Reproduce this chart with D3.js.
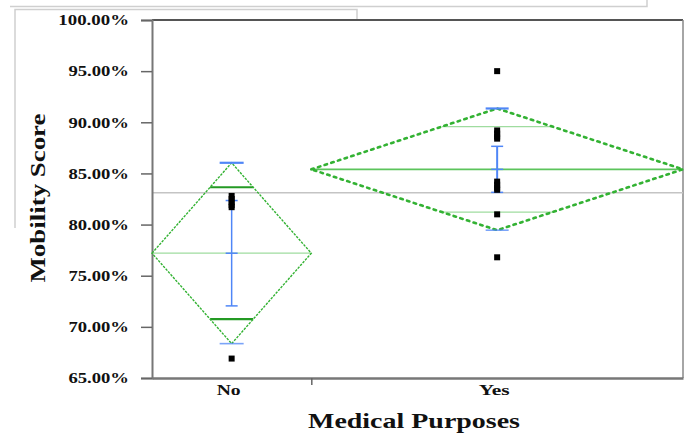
<!DOCTYPE html>
<html>
<head>
<meta charset="utf-8">
<script src="https://cdn.jsdelivr.net/npm/d3@7"></script>
<style>
  body { margin: 0; background: #fff; }
  text { font-family: "Liberation Serif", "Times New Roman", serif; font-weight: bold; fill: #111; }
</style>
</head>
<body>
<div id="chart"></div>
<script>
// groups and their sizes (x widths are proportional to n, like JMP)
var groups = ['No', 'Yes']
var groupN = [6, 14]

// raw points
var noPoints  = [0.828, 0.825, 0.822, 0.819, 0.817, 0.669]
var yesPoints = [0.950, 0.892, 0.889, 0.886, 0.884, 0.842, 0.839, 0.836, 0.834, 0.810, 0.768]

// summary stats per group
var groupMeans  = [0.772, 0.854]
var diamondHalf = [0.0884, 0.0595]   // mean diamond (CI) half height
var overlapHalf = [0.0645, 0.0418]   // overlap marks
var errHalf     = [0.0515, 0.0225]   // blue error bar
var grandMean = 0.831

var yTicks = [0.65, 0.70, 0.75, 0.80, 0.85, 0.90, 0.95, 1.00]

var W = 684, H = 434
var svg = d3.select('#chart').append('svg').attr('width', W).attr('height', H)

var pL = 152, pR = 683, pT = 20, pB = 378
var serif = '"Liberation Serif", "Times New Roman", serif'

var cum = d3.cumsum(groupN)
var total = d3.sum(groupN)
var x = d3.scaleLinear().domain([0, total]).range([pL, pR])
var y = d3.scaleLinear().domain([0.65, 1.0]).range([pB, pT])

var data = groups.map(function(g, i){
  var start = i ? cum[i-1] : 0
  return {
    name: g, x0: x(start), x1: x(cum[i]), xc: x(start + groupN[i]/2),
    mean: groupMeans[i], ci: diamondHalf[i], ov: overlapHalf[i], err: errHalf[i],
    pts: i ? yesPoints : noPoints
  }
})

// faint window frame lines behind the chart
svg.append('path')
  .attr('d', 'M10,6.5H647V0')
  .attr('fill', 'none').attr('stroke', '#cfcfcf').attr('stroke-width', 1.5)
svg.append('path')
  .attr('d', 'M15,228V9.5H357V20')
  .attr('fill', 'none').attr('stroke', '#cfcfcf').attr('stroke-width', 1.5)

// plot frame
svg.append('line').attr('x1', pL).attr('x2', pR).attr('y1', pT).attr('y2', pT)
  .attr('stroke', '#555').attr('stroke-width', 2)
svg.append('line').attr('x1', pR).attr('x2', pR).attr('y1', pT).attr('y2', pB)
  .attr('stroke', '#888').attr('stroke-width', 1.5)

// grand mean
svg.append('line')
  .attr('x1', pL).attr('x2', pR).attr('y1', y(grandMean)).attr('y2', y(grandMean))
  .attr('stroke', '#c4c4c4').attr('stroke-width', 1.5)

// y axis
var fmt = d3.format('.2%')
var yAxis = svg.append('g')
  .attr('transform', 'translate(' + pL + ',0)')
  .call(d3.axisLeft(y).tickValues(yTicks).tickFormat(fmt).tickSize(11).tickPadding(12))
  .attr('font-family', serif).attr('font-weight', 'bold').attr('font-size', 15)
yAxis.select('.domain').attr('stroke', '#777').attr('stroke-width', 2)
yAxis.selectAll('.tick line').attr('stroke', '#666').attr('stroke-width', 1.5)
yAxis.selectAll('.tick text')
  .attr('fill', '#111')
  .attr('textLength', function(d){ return fmt(d).length * 10.1 })
  .attr('lengthAdjust', 'spacingAndGlyphs')

// x axis (only the boundary tick between groups)
var xAxis = svg.append('g')
  .attr('transform', 'translate(0,' + pB + ')')
  .call(d3.axisBottom(x).tickValues(cum.slice(0, -1)).tickFormat('').tickSize(7).tickSizeOuter(0))
xAxis.select('.domain').attr('stroke', '#777').attr('stroke-width', 2.5)
xAxis.selectAll('.tick line').attr('stroke', '#666').attr('stroke-width', 1.5)

svg.selectAll('.xlab').data(data).enter().append('text')
  .attr('x', function(d){ return d.xc - 3 })
  .attr('y', 395)
  .attr('text-anchor', 'middle')
  .attr('font-size', 14)
  .attr('textLength', function(d, i){ return i ? 31 : 24 })
  .attr('lengthAdjust', 'spacingAndGlyphs')
  .text(function(d){ return d.name })

// axis titles
svg.append('text')
  .attr('x', 414).attr('y', 428).attr('text-anchor', 'middle')
  .attr('font-size', 22).attr('textLength', 212).attr('lengthAdjust', 'spacingAndGlyphs')
  .text('Medical Purposes')
svg.append('text')
  .attr('transform', 'translate(45,198) rotate(-90)')
  .attr('text-anchor', 'middle')
  .attr('font-size', 22).attr('textLength', 169).attr('lengthAdjust', 'spacingAndGlyphs')
  .text('Mobility Score')

var green = '#33b233'
var lightGreen = '#9fdc9f'
var blue = '#4f86f7'

var gs = svg.selectAll('.grp').data(data).enter().append('g')

// mean line
gs.append('line')
  .attr('x1', d => d.x0).attr('x2', d => d.x1)
  .attr('y1', d => y(d.mean)).attr('y2', d => y(d.mean))
  .attr('stroke', (d, i) => i ? '#5cc45c' : lightGreen)
  .attr('stroke-width', (d, i) => i ? 1.6 : 1.2)

// overlap marks
gs.each(function(d, i){
  var g = d3.select(this)
  var hw = (d.x1 - d.x0) / 2 * (1 - d.ov / d.ci)
  ;[d.mean + d.ov, d.mean - d.ov].forEach(function(v){
    g.append('line')
      .attr('x1', d.xc - hw).attr('x2', d.xc + hw)
      .attr('y1', y(v)).attr('y2', y(v))
      .attr('stroke', i ? lightGreen : '#249a24')
      .attr('stroke-width', i ? 1.2 : 2.2)
  })
})

// diamonds
gs.append('path')
  .attr('d', function(d){
    return 'M' + d.x0 + ',' + y(d.mean) + 'L' + d.xc + ',' + y(d.mean + d.ci) +
      'L' + d.x1 + ',' + y(d.mean) + 'L' + d.xc + ',' + y(d.mean - d.ci) + 'Z'
  })
  .attr('fill', 'none')
  .attr('stroke', green)
  .attr('stroke-width', (d, i) => i ? 2.6 : 1.4)
  .attr('stroke-linecap', (d, i) => i ? 'round' : 'butt')
  .attr('stroke-dasharray', (d, i) => i ? '2.5,4.5' : '2.5,1.2')

// blue caps at diamond tips
gs.each(function(d, i){
  var g = d3.select(this)
  var hw = i ? 11.5 : 12
  ;[d.mean + d.ci, d.mean - d.ci].forEach(function(v, j){
    g.append('line')
      .attr('x1', d.xc - hw).attr('x2', d.xc + hw)
      .attr('y1', y(v)).attr('y2', y(v))
      .attr('stroke', blue).attr('stroke-width', j ? 1.6 : 2.2)
      .attr('opacity', j ? 0.75 : 1)
  })
})

// blue error bars
gs.append('line')
  .attr('x1', d => d.xc).attr('x2', d => d.xc)
  .attr('y1', d => y(d.mean + d.err)).attr('y2', d => y(d.mean - d.err))
  .attr('stroke', blue).attr('stroke-width', (d, i) => i ? 2 : 1.5)
gs.each(function(d){
  var g = d3.select(this)
  ;[d.mean + d.err, d.mean, d.mean - d.err].forEach(function(v){
    g.append('line')
      .attr('x1', d.xc - 6).attr('x2', d.xc + 6)
      .attr('y1', y(v)).attr('y2', y(v))
      .attr('stroke', blue).attr('stroke-width', 1.5)
  })
})

// points
gs.selectAll('rect').data(d => d.pts.map(v => ({v: v, xc: d.xc}))).enter().append('rect')
  .attr('x', d => d.xc - 3).attr('y', d => y(d.v) - 3)
  .attr('width', 6).attr('height', 6)
  .attr('fill', '#000')
</script>
</body>
</html>
